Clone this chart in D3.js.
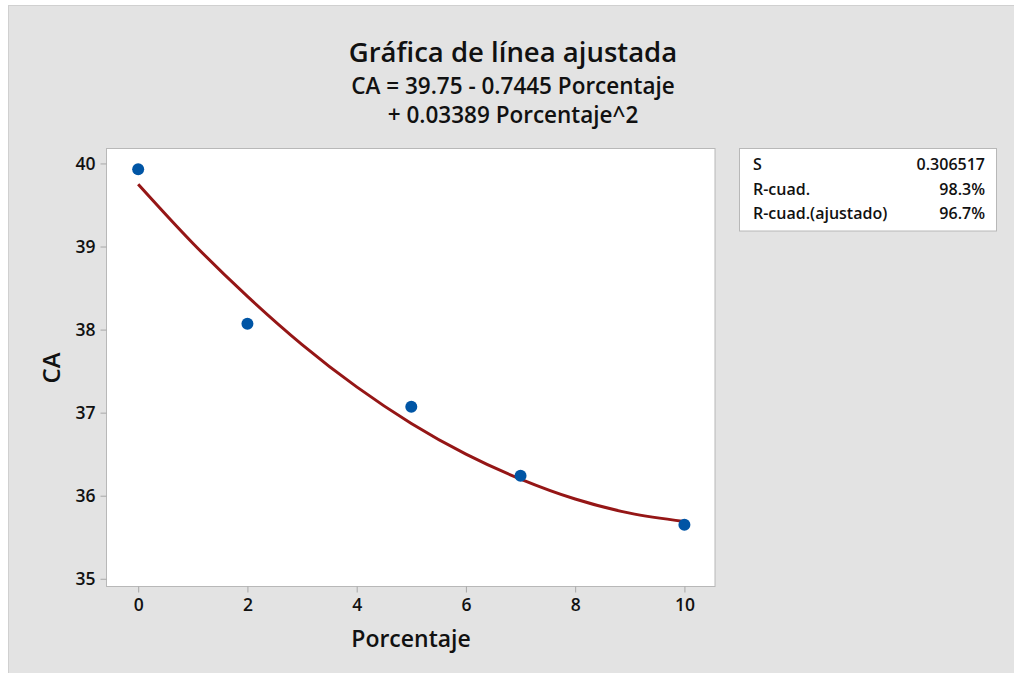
<!DOCTYPE html>
<html>
<head>
<meta charset="utf-8">
<script src="https://cdn.jsdelivr.net/npm/d3@7"></script>
<style>
  body { margin: 0; background: #fff; }
  svg text { font-family: "Open Sans", "Noto Sans", sans-serif; fill: #111; }
</style>
</head>
<body>
<svg id="chart" width="1014" height="673"></svg>
<script>
// Observed data
const porcentaje = [0, 2, 5, 7, 10];
const ca = [39.93, 38.07, 37.07, 36.24, 35.65];

// Fitted curve
const fitX = [0, 1, 2, 3, 4, 5, 6, 7, 8, 9, 10];
const fitY = [39.75, 39.04, 38.40, 37.82, 37.31, 36.87, 36.50, 36.20, 35.96, 35.79, 35.69];

const xTicks = [0, 2, 4, 6, 8, 10];
const yTicks = [35, 36, 37, 38, 39, 40];

const titleLines = ["Gráfica de línea ajustada", "CA = 39.75 - 0.7445 Porcentaje", "+ 0.03389 Porcentaje^2"];
const statLabels = ["S", "R-cuad.", "R-cuad.(ajustado)"];
const statValues = ["0.306517", "98.3%", "96.7%"];

const svg = d3.select("#chart");

// background panel
svg.append("rect")
    .attr("x", 8.5).attr("y", 5.5)
    .attr("width", 1010).attr("height", 672)
    .attr("fill", "#e3e3e3")
    .attr("stroke", "#d0d0d0");

const plot = {left: 106.5, right: 715, top: 148.5, bottom: 586.5};

const x = d3.scaleLinear().domain([-0.58, 10.56]).range([plot.left, plot.right]);
const y = d3.scaleLinear().domain([34.907, 40.18]).range([plot.bottom, plot.top]);

svg.append("rect")
    .attr("x", plot.left).attr("y", plot.top)
    .attr("width", plot.right - plot.left).attr("height", plot.bottom - plot.top)
    .attr("fill", "#fff")
    .attr("stroke", "#b8b8b8");

// axes
const xAxis = svg.append("g")
    .attr("transform", `translate(0,${plot.bottom})`)
    .call(d3.axisBottom(x).tickValues(xTicks).tickSize(6).tickPadding(6).tickFormat(d3.format("d")));
const yAxis = svg.append("g")
    .attr("transform", `translate(${plot.left},0)`)
    .call(d3.axisLeft(y).tickValues(yTicks).tickSize(6).tickPadding(5).tickFormat(d3.format("d")));

[xAxis, yAxis].forEach(g => {
    g.select(".domain").remove();
    g.selectAll(".tick line").attr("stroke", "#a8a8a8");
    g.selectAll(".tick text")
        .style("font-family", '"Open Sans", sans-serif')
        .style("font-size", "17.5px")
        .style("font-weight", 600)
        .attr("fill", "#111");
});

// fitted line
svg.append("path")
    .datum(fitX.map((d, i) => [d, fitY[i]]))
    .attr("fill", "none")
    .attr("stroke", "#951616")
    .attr("stroke-width", 3)
    .attr("d", d3.line().x(d => x(d[0])).y(d => y(d[1])).curve(d3.curveMonotoneX));

// points
svg.selectAll("circle.pt")
    .data(porcentaje)
    .enter()
    .append("circle")
    .attr("class", "pt")
    .attr("cx", d => x(d))
    .attr("cy", (d, i) => y(ca[i]))
    .attr("r", 6)
    .attr("fill", "#0055a5");

// titles
const titleSizes = [27.5, 22.5, 22.5];
const titleY = [62, 94, 123];
titleLines.forEach((t, i) => {
    svg.append("text")
        .attr("x", 513).attr("y", titleY[i])
        .attr("text-anchor", "middle")
        .style("font-size", titleSizes[i] + "px")
        .style("font-weight", 600)
        .text(t);
});

// axis labels
svg.append("text")
    .attr("x", 411).attr("y", 647)
    .attr("text-anchor", "middle")
    .style("font-size", "23px")
    .style("font-weight", 600)
    .text("Porcentaje");

svg.append("text")
    .attr("transform", "translate(60,368) rotate(-90)")
    .attr("text-anchor", "middle")
    .style("font-size", "24px")
    .style("font-weight", 600)
    .text("CA");

// stats box
svg.append("rect")
    .attr("x", 739.5).attr("y", 148.5)
    .attr("width", 257).attr("height", 82.5)
    .attr("fill", "#fff")
    .attr("stroke", "#b8b8b8");

const rowY = [170, 195, 219];
statLabels.forEach((s, i) => {
    svg.append("text")
        .attr("x", 753).attr("y", rowY[i])
        .style("font-size", "16px")
        .style("font-weight", 600)
        .text(s);
    svg.append("text")
        .attr("x", 985).attr("y", rowY[i])
        .attr("text-anchor", "end")
        .style("font-size", "16px")
        .style("font-weight", 600)
        .text(statValues[i]);
});
</script>
</body>
</html>
